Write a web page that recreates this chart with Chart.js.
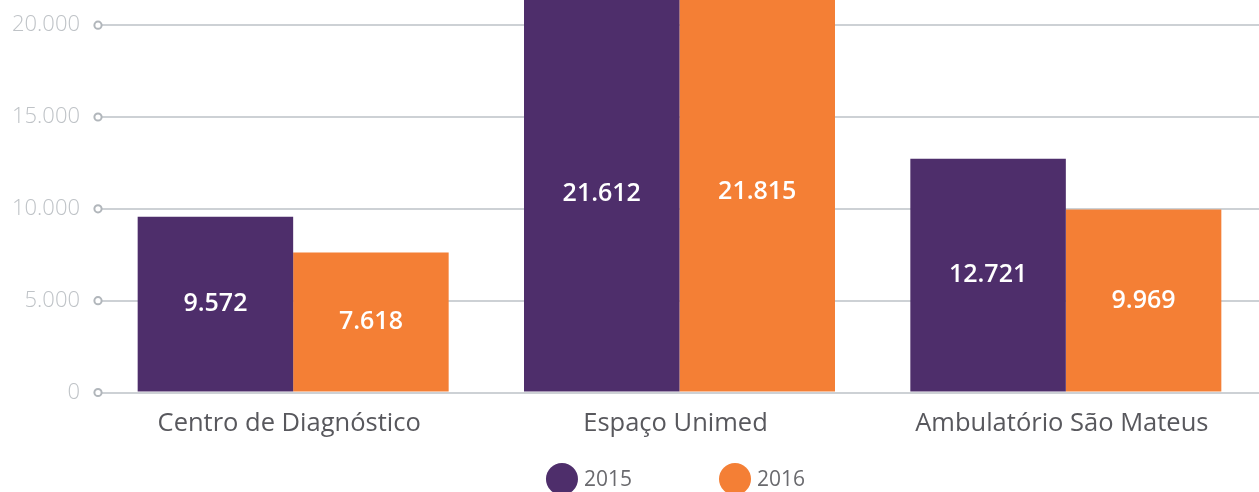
<!DOCTYPE html>
<html lang="pt-BR">
<head>
<meta charset="UTF-8">
<title>Atendimentos por unidade</title>
<script src="https://cdn.jsdelivr.net/npm/chart.js"></script>
<style>
  html, body { margin: 0; padding: 0; background: #fff; overflow: hidden; }
  #wrap { width: 1259px; height: 492px; position: relative; }
</style>
</head>
<body>
<div id="wrap"><canvas id="chart"></canvas></div>
<script>
const categories = ['Centro de Diagnóstico', 'Espaço Unimed', 'Ambulatório São Mateus'];
const years = ['2015', '2016'];
const values2015 = [9572, 21612, 12721];
const values2016 = [7618, 21815, 9969];
const yTicks = [0, 5000, 10000, 15000, 20000];
const colors = ['#4e2e6b', '#f47f35'];

const FONT = "'Open Sans', sans-serif";
const fmt = v => String(v).replace(/\B(?=(\d{3})+(?!\d))/g, '.');

// white numbers in the middle of each bar
const valueLabels = {
  id: 'valueLabels',
  afterDatasetsDraw(chart) {
    const ctx = chart.ctx;
    ctx.save();
    ctx.fillStyle = '#fff';
    ctx.font = '600 25px ' + FONT;
    ctx.textAlign = 'center';
    ctx.textBaseline = 'middle';
    chart.data.datasets.forEach((ds, i) => {
      chart.getDatasetMeta(i).data.forEach((bar, j) => {
        ctx.fillText(fmt(ds.data[j]), bar.x, (bar.y + bar.base) / 2);
      });
    });
    ctx.restore();
  }
};

// little rings where the grid lines start
const tickRings = {
  id: 'tickRings',
  afterDraw(chart) {
    const ctx = chart.ctx;
    const y = chart.scales.y;
    ctx.save();
    ctx.strokeStyle = '#b1b6bb';
    ctx.fillStyle = '#fff';
    ctx.lineWidth = 2;
    yTicks.forEach(v => {
      ctx.beginPath();
      ctx.arc(chart.chartArea.left - 2, y.getPixelForValue(v), 3.6, 0, Math.PI * 2);
      ctx.fill();
      ctx.stroke();
    });
    ctx.restore();
  }
};

// legend with big dots, centred under the plot
const dotLegend = {
  id: 'dotLegend',
  afterDraw(chart) {
    const ctx = chart.ctx;
    const r = 16, gap = 6, space = 87, cy = 479;
    ctx.save();
    ctx.font = '21px ' + FONT;
    ctx.textBaseline = 'middle';
    const items = chart.data.datasets.map(ds => ({
      label: ds.label, color: ds.backgroundColor,
      w: 2 * r + gap + ctx.measureText(ds.label).width
    }));
    const total = items.reduce((s, it) => s + it.w, 0) + space * (items.length - 1);
    let x = (chart.chartArea.left + chart.chartArea.right) / 2 - 4 - total / 2;
    items.forEach(it => {
      ctx.fillStyle = it.color;
      ctx.beginPath();
      ctx.arc(x + r, cy, r, 0, Math.PI * 2);
      ctx.fill();
      ctx.fillStyle = '#6a6a6e';
      ctx.fillText(it.label, x + 2 * r + gap, cy + 1);
      x += it.w + space;
    });
    ctx.restore();
  }
};

new Chart(document.getElementById('chart'), {
  type: 'bar',
  data: {
    labels: categories,
    datasets: [
      { label: years[0], data: values2015, backgroundColor: colors[0] },
      { label: years[1], data: values2016, backgroundColor: colors[1] }
    ]
  },
  options: {
    responsive: true,
    maintainAspectRatio: false,
    animation: false,
    categoryPercentage: 0.805,
    barPercentage: 1,
    layout: { padding: 0 },
    plugins: {
      legend: { display: false },
      tooltip: { enabled: false }
    },
    scales: {
      x: {
        grid: { display: false },
        border: { display: false },
        ticks: { color: '#58585d', font: { family: FONT, size: 25.5 }, padding: 8, labelOffset: -4 },
        afterFit: s => { s.height = 99.5; s.paddingLeft = 0; s.paddingRight = 0; }
      },
      y: {
        min: 0,
        max: 21370,
        border: { display: false },
        grid: { color: '#cdd1d5', lineWidth: 2, drawTicks: false },
        ticks: {
          color: '#bfc3c7',
          font: { family: FONT, size: 22, weight: 300 },
          padding: 20,
          callback: v => fmt(v)
        },
        afterBuildTicks: s => { s.ticks = yTicks.map(v => ({ value: v })); },
        afterFit: s => { s.width = 100; s.paddingTop = 0; s.paddingBottom = 0; }
      }
    }
  },
  plugins: [valueLabels, tickRings, dotLegend]
});
</script>
</body>
</html>
